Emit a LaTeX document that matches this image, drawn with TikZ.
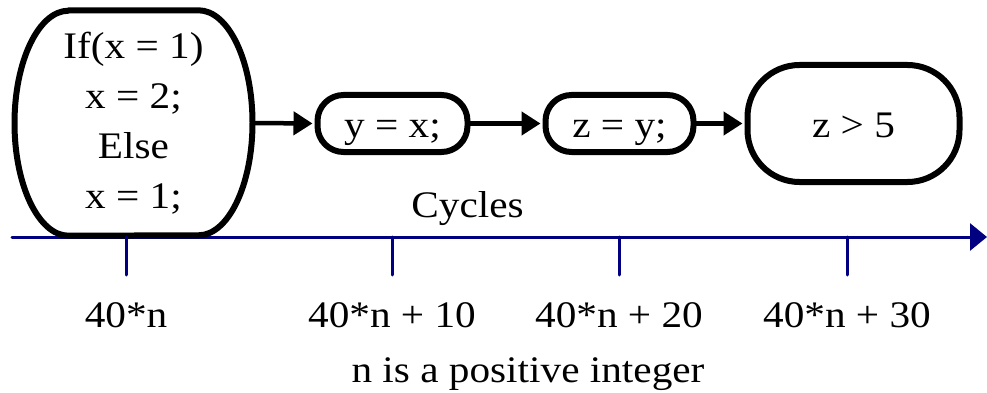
\documentclass[tikz,border=0pt]{standalone}
\usepackage{fontspec}
\setmainfont{Liberation Serif}[FakeStretch=1.1]
\usetikzlibrary{arrows.meta,positioning}
\definecolor{axisblue}{RGB}{0,0,128}
\tikzset{
  st/.style={draw,line width=6pt,rounded corners=26pt,minimum width=150pt,
             minimum height=57pt,inner sep=0pt,text height=28pt,text depth=0pt},
  fl/.style={line width=4.5pt,-{Triangle[length=19pt,width=23pt]},shorten >=2pt},
  ax/.style={axisblue,line width=3pt},
  lbl/.style={inner sep=0pt,anchor=base},
  every picture/.style={line cap=round,line join=round}}

\begin{document}
\begin{tikzpicture}[x=1pt,y=1pt,font=\fontsize{37.5pt}{50pt}\selectfont]
  \useasboundingbox (0,0) rectangle (987,-393);
  % statements
  \node[inner sep=0pt,align=center,minimum width=238pt,minimum height=225pt] (cond)
    at (133.5,-123){If(x = 1)\\x = 2;\\Else\\x = 1;};
  \node[st] (yx) at (392.5,-123.5){y = x;};
  \node[st,minimum width=148pt] (zy) at (619.5,-123.5){z = y;};
  \node[st,minimum width=212pt,minimum height=117pt,rounded corners=52pt] (zg)
    at (853.5,-123.5){z > 5};
  % timeline
  \coordinate (a0) at (12,-237);\coordinate (a1) at (987,-237);
  \draw[ax,-{Triangle[length=17pt,width=27pt]}] (a0)--(a1);
  \draw[line width=6pt] ([xshift=-65pt]cond.north)--([xshift=65pt]cond.north)
    arc[start angle=90,end angle=-90,x radius=54pt,y radius=112.5pt]
    --([xshift=-65pt]cond.south)
    arc[start angle=270,end angle=90,x radius=54pt,y radius=112.5pt]--cycle;
  \draw[fl] (cond.east)--(yx.west);\draw[fl] (yx)--(zy);\draw[fl] (zy)--(zg);
  \node[lbl] (cyc) at (467.5,-217){Cycles};
  \foreach \x/\t [count=\i] in {126/{40*n},392/{40*n + 10},619/{40*n + 20},847/{40*n + 30}}{
    \coordinate (t\i) at (\x,-237);
    \draw[ax] (t\i)--++(0,-38);
    \node[lbl] (c\i) at (\x,-327){\t};
  }
  \node[lbl] (note) at (528,-382){n is a positive integer};
\end{tikzpicture}
\end{document}
